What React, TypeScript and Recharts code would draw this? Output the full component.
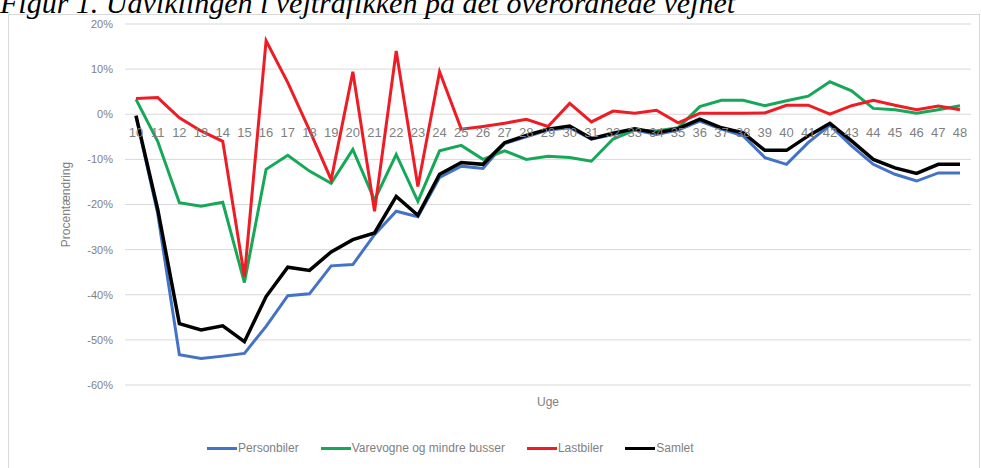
import { CartesianGrid, Line, LineChart, XAxis, YAxis } from "recharts";

const weeks = [
  "10", "11", "12", "13", "14", "15", "16", "17", "18", "19",
  "20", "21", "22", "23", "24", "25", "26", "27", "28", "29",
  "30", "31", "32", "33", "34", "35", "36", "37", "38", "39",
  "40", "41", "42", "43", "44", "45", "46", "47", "48",
];

const personbiler = [
  -0.5, -22, -53.3, -54.1, -53.6, -53, -47, -40.2, -39.8, -33.6,
  -33.3, -26.7, -21.5, -22.7, -14, -11.5, -12, -6.5, -5, -3.5,
  -3, -5.5, -4.5, -3.5, -4.5, -3.5, -1.5, -3.3, -4.8, -9.6,
  -11.1, -6.3, -2.4, -7, -11.1, -13.3, -14.8, -13, -13,
];

const varevogne = [
  3.3, -6, -19.6, -20.4, -19.5, -37.3, -12.2, -9.1, -12.6, -15.3,
  -7.8, -19, -8.9, -19.3, -8.1, -6.9, -10, -8.1, -10, -9.3,
  -9.6, -10.4, -5.5, -3.5, -3.7, -3, 1.7, 3.1, 3.1, 1.9,
  3, 4, 7.2, 5.2, 1.3, 1, 0.2, 1, 1.9,
];

const lastbiler = [
  3.5, 3.7, -0.8, -3.7, -6, -36, 16.3, 7, -3.5, -14.5,
  9.4, -21.5, 14, -16, 9.4, -3.3, -2.7, -2, -1.1, -2.7,
  2.4, -1.7, 0.7, 0.2, 0.9, -1.9, 0.2, 0.2, 0.2, 0.3,
  2, 2, 0, 1.9, 3.1, 2, 1, 1.8, 1,
];

const samlet = [
  -0.3, -21, -46.4, -47.8, -46.9, -50.4, -40.4, -33.9, -34.6, -30.5,
  -27.8, -26.3, -18.2, -22.4, -13.3, -10.7, -11.1, -6.3, -4.7, -3.3,
  -2.6, -5.4, -4.2, -3.2, -4.1, -3.2, -1.1, -3, -4.1, -8,
  -8, -4.8, -2, -5.9, -10, -11.9, -13.1, -11.1, -11.1,
];

const yTicks = [-60, -50, -40, -30, -20, -10, 0, 10, 20];

const series = [
  { key: "personbiler", name: "Personbiler", color: "#4472c4" },
  { key: "varevogne", name: "Varevogne og mindre busser", color: "#16a858" },
  { key: "lastbiler", name: "Lastbiler", color: "#ee1c25" },
  { key: "samlet", name: "Samlet", color: "#000000" },
];

const data = weeks.map((week, i) => ({
  week,
  personbiler: personbiler[i],
  varevogne: varevogne[i],
  lastbiler: lastbiler[i],
  samlet: samlet[i],
}));

const WIDTH = 981;
const HEIGHT = 468;
const TOP = 24;
const BOTTOM = 83;
const Y_MIN = -60;
const Y_MAX = 20;
const PLOT_H = HEIGHT - TOP - BOTTOM;
// x labels sit on the 0% line, like Excel's crossing axis
const ZERO_Y = TOP + (PLOT_H * (Y_MAX - 0)) / (Y_MAX - Y_MIN);

const textGrey = "#7f7f7f";
const font = "'Liberation Sans', Arial, sans-serif";

function WeekTick(props: any) {
  const { x, payload } = props;
  return (
    <text
      x={x}
      y={ZERO_Y + 23}
      textAnchor="middle"
      fill={textGrey}
      fontSize={13}
      fontFamily={font}
    >
      {payload.value}
    </text>
  );
}

export default function App() {
  return (
    <div
      style={{
        position: "absolute",
        left: 0,
        top: 0,
        width: WIDTH,
        height: HEIGHT,
        background: "#fff",
        overflow: "hidden",
      }}
    >
      <div
        style={{
          position: "absolute",
          left: 8,
          top: 14,
          width: WIDTH - 11,
          height: HEIGHT - 14,
          border: "1px solid #d9d9d9",
        }}
      />
      {/* the source image crops the caption at the top edge */}
      <div
        style={{
          position: "absolute",
          left: 0,
          top: -12,
          fontFamily: "'Liberation Serif', serif",
          fontStyle: "italic",
          fontSize: 30,
          lineHeight: "30px",
          whiteSpace: "nowrap",
          color: "#000",
        }}
      >
        Figur 1. Udviklingen i vejtrafikken på det overordnede vejnet
      </div>
      <div style={{ position: "absolute", left: 0, top: 0 }}>
        <LineChart
          width={WIDTH}
          height={HEIGHT}
          data={data}
          margin={{ top: TOP, right: 10, bottom: BOTTOM - 21, left: 80 }}
        >
          <CartesianGrid vertical={false} stroke="#d9d9d9" strokeWidth={1} />
          <XAxis
            dataKey="week"
            type="category"
            height={21}
            padding={{ left: 11, right: 11 }}
            axisLine={false}
            tickLine={false}
            tick={WeekTick}
            interval={0}
            label={{
              value: "Uge",
              position: "insideBottom",
              offset: 0,
              fill: textGrey,
              fontSize: 12,
              fontFamily: font,
            }}
          />
          <YAxis
            type="number"
            domain={[Y_MIN, Y_MAX]}
            ticks={yTicks}
            width={45}
            axisLine={false}
            tickLine={false}
            tickSize={0}
            tickMargin={12}
            tickFormatter={(v) => `${v}%`}
            tick={{ fill: textGrey, fontSize: 11, fontFamily: font }}
            label={{
              value: "Procentændring",
              angle: -90,
              position: "insideLeft",
              offset: -14,
              style: { textAnchor: "middle" },
              fill: textGrey,
              fontSize: 12,
              fontFamily: font,
            }}
          />
          {series.map((s) => (
            <Line
              key={s.key}
              type="linear"
              dataKey={s.key}
              name={s.name}
              stroke={s.color}
              strokeWidth={s.key === "samlet" ? 3.5 : 3}
              dot={false}
              isAnimationActive={false}
            />
          ))}
        </LineChart>
      </div>
      <div
        style={{
          position: "absolute",
          left: 207,
          top: 441,
          display: "flex",
          alignItems: "center",
          gap: 22,
          fontFamily: font,
          fontSize: 12,
          color: textGrey,
          whiteSpace: "nowrap",
        }}
      >
        {series.map((s) => (
          <div key={s.key} style={{ display: "flex", alignItems: "center" }}>
            <span
              style={{
                display: "inline-block",
                width: 30,
                height: 3,
                background: s.color,
                marginRight: 1,
              }}
            />
            {s.name}
          </div>
        ))}
      </div>
    </div>
  );
}
